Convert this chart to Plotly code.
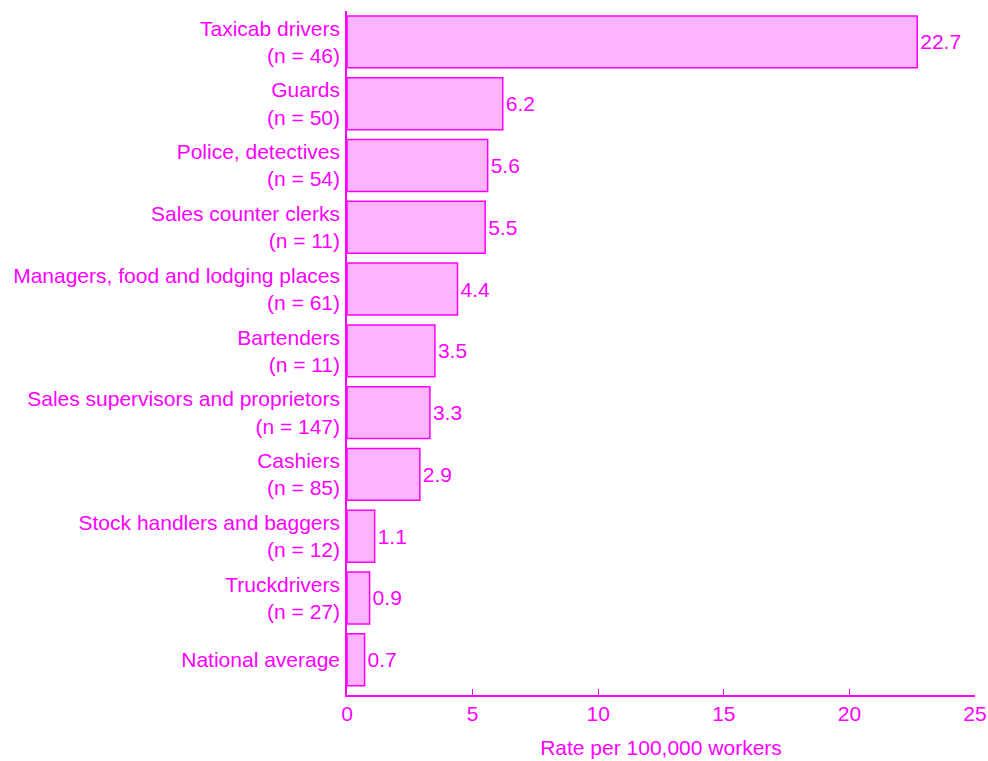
import plotly.graph_objects as go

categories = [
    "Taxicab drivers<br>(n = 46)",
    "Guards<br>(n = 50)",
    "Police, detectives<br>(n = 54)",
    "Sales counter clerks<br>(n = 11)",
    "Managers, food and lodging places<br>(n = 61)",
    "Bartenders<br>(n = 11)",
    "Sales supervisors and proprietors<br>(n = 147)",
    "Cashiers<br>(n = 85)",
    "Stock handlers and baggers<br>(n = 12)",
    "Truckdrivers<br>(n = 27)",
    "National average",
]
rates = [22.7, 6.2, 5.6, 5.5, 4.4, 3.5, 3.3, 2.9, 1.1, 0.9, 0.7]
rate_labels = ["22.7", "6.2", "5.6", "5.5", "4.4", "3.5", "3.3", "2.9", "1.1", "0.9", "0.7"]
x_ticks = [0, 5, 10, 15, 20, 25]

MAG = "#FF00FF"
FONT = "Liberation Sans, Arial, sans-serif"
FS = 21

fig = go.Figure(
    go.Bar(
        x=rates,
        y=categories,
        orientation="h",
        marker=dict(color="#FFB3FF", line=dict(color=MAG, width=1.5)),
        text=rate_labels,
        textposition="outside",
        textfont=dict(color=MAG, size=FS, family=FONT),
        cliponaxis=False,
    )
)

fig.update_layout(
    width=988,
    height=761,
    margin=dict(l=347, r=13, t=11, b=66, autoexpand=False),
    plot_bgcolor="white",
    paper_bgcolor="white",
    font=dict(family=FONT, color=MAG, size=FS),
    bargap=0.16,
    showlegend=False,
)
fig.update_xaxes(
    range=[0, 25],
    tickvals=x_ticks,
    ticks="inside",
    ticklen=6,
    tickcolor=MAG,
    showline=True,
    linecolor=MAG,
    linewidth=1.5,
    showgrid=False,
    zeroline=False,
    automargin=False,
    ticklabelstandoff=-1,
    tickfont=dict(size=FS, color=MAG),
    title=dict(text="Rate per 100,000 workers", font=dict(size=FS, color=MAG), standoff=16),
)
fig.update_yaxes(
    categoryorder="array",
    categoryarray=categories,
    autorange=False,
    range=[10.57, -0.5],
    showline=True,
    linecolor=MAG,
    linewidth=1.5,
    showgrid=False,
    automargin=False,
    ticks="",
    ticklabelstandoff=1,
    tickfont=dict(size=FS, color=MAG),
)

fig.write_html(
    "out.html",
    config={"displayModeBar": False},
    post_script="document.body.style.margin='0';document.body.style.overflow='hidden';",
)
